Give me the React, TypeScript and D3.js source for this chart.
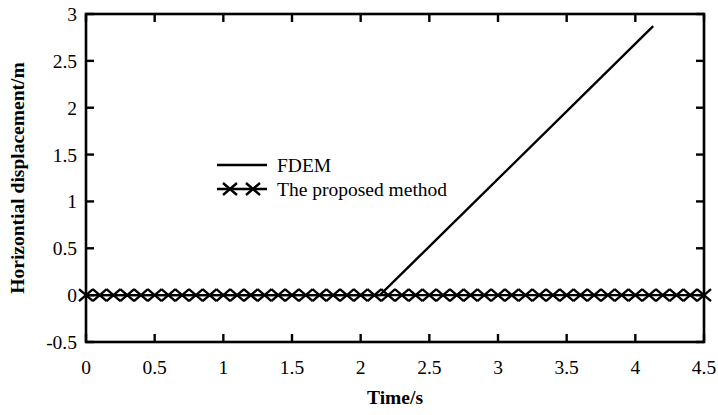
import React from "react";
import * as d3 from "d3";

// FDEM horizontal displacement: rest, then uniform motion
const fdemTime = [0, 2.14, 4.13];
const fdemDisp = [0, 0, 2.87];

// Proposed method samples (every 0.1 s)
const proposedTime = [
  0, 0.1, 0.2, 0.3, 0.4, 0.5, 0.6, 0.7, 0.8, 0.9,
  1.0, 1.1, 1.2, 1.3, 1.4, 1.5, 1.6, 1.7, 1.8, 1.9,
  2.0, 2.1, 2.2, 2.3, 2.4, 2.5, 2.6, 2.7, 2.8, 2.9,
  3.0, 3.1, 3.2, 3.3, 3.4, 3.5, 3.6, 3.7, 3.8, 3.9,
  4.0, 4.1, 4.2, 4.3, 4.4, 4.5,
];
const proposedDisp = [
  0, 0, 0, 0, 0, 0, 0, 0, 0, 0,
  0, 0, 0, 0, 0, 0, 0, 0, 0, 0,
  0, 0, 0, 0, 0, 0, 0, 0, 0, 0,
  0, 0, 0, 0, 0, 0, 0, 0, 0, 0,
  0, 0, 0, 0, 0, 0,
];

const xTicks = [0, 0.5, 1, 1.5, 2, 2.5, 3, 3.5, 4, 4.5];
const yTicks = [-0.5, 0, 0.5, 1, 1.5, 2, 2.5, 3];

const legendLabels = ["FDEM", "The proposed method"];

const W = 718;
const H = 415;
const margin = { left: 86, right: 14, top: 14, bottom: 73 };
const font = "'Liberation Serif', 'Times New Roman', serif";
const fs = 19.5;

function Cross({ cx, cy }: { cx: number; cy: number }) {
  const a = 7;
  const b = 6;
  return (
    <path
      d={`M${cx - a},${cy - b}L${cx + a},${cy + b}M${cx - a},${cy + b}L${cx + a},${cy - b}`}
      stroke="#000"
      strokeWidth={2.4}
      fill="none"
    />
  );
}

export default function App() {
  const x = d3.scaleLinear().domain([0, 4.5]).range([margin.left, W - margin.right]);
  const y = d3.scaleLinear().domain([-0.5, 3]).range([H - margin.bottom, margin.top]);

  const fdem = fdemTime.map((t, i) => [t, fdemDisp[i]] as [number, number]);
  const proposed = proposedTime.map((t, i) => [t, proposedDisp[i]] as [number, number]);

  const line = d3
    .line<[number, number]>()
    .x((d) => x(d[0]))
    .y((d) => y(d[1]));

  const x0 = margin.left;
  const x1 = W - margin.right;
  const y0 = H - margin.bottom;
  const y1 = margin.top;
  const tick = 8;

  const legX = 217;
  const legY = 165;
  const legGap = 24;

  return (
    <svg width={W} height={H} style={{ position: "absolute", left: 0, top: 0, background: "#fff" }}>
      <defs>
        <clipPath id="plot">
          <rect x={x0} y={y1} width={x1 - x0} height={y0 - y1} />
        </clipPath>
      </defs>

      {/* data */}
      <g clipPath="url(#plot)">
        <path d={line(proposed) ?? ""} stroke="#000" strokeWidth={2.4} fill="none" />
        <path d={line(fdem) ?? ""} stroke="#000" strokeWidth={2.4} fill="none" />
      </g>
      <g>
        {proposed.map((d, i) => (
          <Cross key={i} cx={x(d[0])} cy={y(d[1])} />
        ))}
      </g>

      {/* ticks inside the frame */}
      <g stroke="#000" strokeWidth={2.4}>
        {xTicks.map((t) => (
          <g key={"xt" + t}>
            <line x1={x(t)} x2={x(t)} y1={y0} y2={y0 - tick} />
            <line x1={x(t)} x2={x(t)} y1={y1} y2={y1 + tick} />
          </g>
        ))}
        {yTicks.map((t) => (
          <g key={"yt" + t}>
            <line x1={x0} x2={x0 + tick} y1={y(t)} y2={y(t)} />
            <line x1={x1} x2={x1 - tick} y1={y(t)} y2={y(t)} />
          </g>
        ))}
      </g>

      {/* frame */}
      <rect x={x0} y={y1} width={x1 - x0} height={y0 - y1} fill="none" stroke="#000" strokeWidth={2.6} />

      {/* tick labels */}
      <g fontFamily={font} fontSize={fs} fill="#000">
        {xTicks.map((t) => (
          <text key={"xl" + t} x={x(t)} y={374} textAnchor="middle">
            {t}
          </text>
        ))}
        {yTicks.map((t) => (
          <text key={"yl" + t} x={77} y={y(t) + 7} textAnchor="end">
            {t}
          </text>
        ))}
      </g>

      {/* axis titles */}
      <text
        x={(x0 + x1) / 2}
        y={404}
        textAnchor="middle"
        fontFamily={font}
        fontSize={fs}
        fontWeight="bold"
      >
        Time/s
      </text>
      <text
        transform={`translate(24,${(y0 + y1) / 2}) rotate(-90)`}
        textAnchor="middle"
        fontFamily={font}
        fontSize={fs}
        fontWeight="bold"
      >
        Horizontial displacement/m
      </text>

      {/* legend */}
      <g>
        <line x1={legX} x2={legX + 50} y1={legY} y2={legY} stroke="#000" strokeWidth={2.4} />
        <text x={legX + 60} y={legY + 7} fontFamily={font} fontSize={fs}>
          {legendLabels[0]}
        </text>
        <line x1={legX} x2={legX + 50} y1={legY + legGap} y2={legY + legGap} stroke="#000" strokeWidth={2.4} />
        <Cross cx={legX + 13} cy={legY + legGap} />
        <Cross cx={legX + 36} cy={legY + legGap} />
        <text x={legX + 60} y={legY + legGap + 7} fontFamily={font} fontSize={fs}>
          {legendLabels[1]}
        </text>
      </g>
    </svg>
  );
}
